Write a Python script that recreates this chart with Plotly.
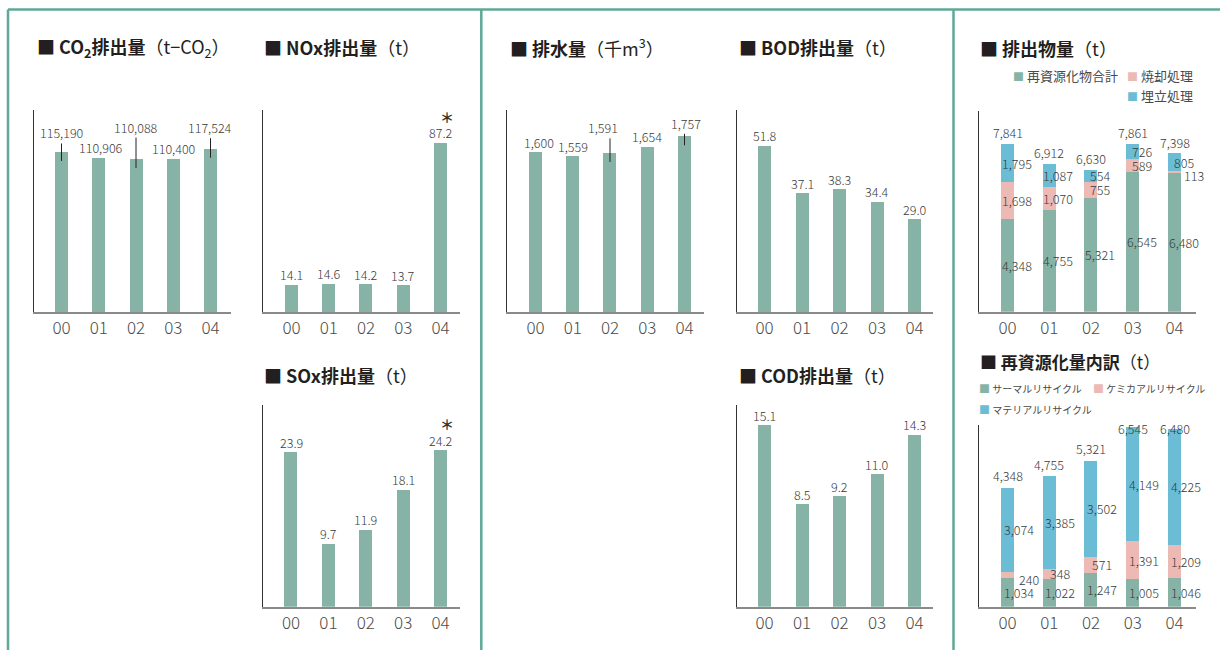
import plotly.graph_objects as go

W, H = 1220, 650

# ---------------- data ----------------
years = ["00", "01", "02", "03", "04"]
co2 = [115190, 110906, 110088, 110400, 117524]
nox = [14.1, 14.6, 14.2, 13.7, 87.2]
sox = [23.9, 9.7, 11.9, 18.1, 24.2]
water = [1600, 1559, 1591, 1654, 1757]
bod = [51.8, 37.1, 38.3, 34.4, 29.0]
cod = [15.1, 8.5, 9.2, 11.0, 14.3]

waste_recycled = [4348, 4755, 5321, 6545, 6480]
waste_incinerated = [1698, 1070, 755, 589, 113]
waste_landfill = [1795, 1087, 554, 726, 805]
waste_total = [7841, 6912, 6630, 7861, 7398]

recy_thermal = [1034, 1022, 1247, 1005, 1046]
recy_chemical = [240, 348, 571, 1391, 1209]
recy_material = [3074, 3385, 3502, 4149, 4225]
recy_total = [4348, 4755, 5321, 6545, 6480]

waste_names = ["再資源化物合計", "焼却処理", "埋立処理"]
recy_names = ["サーマルリサイクル", "ケミカアルリサイクル", "マテリアルリサイクル"]

# ---------------- style ----------------
GREEN = "#86b3a6"
PINK = "#ecb9b4"
BLUE = "#6bbdd6"
TEAL = "#5fa898"
FONT = "Noto Sans CJK JP"
NUMC = "#3a3a3a"
NUMSIZE = 12.5

# panel geometry (pixels): plot box, first bar centre, bar pitch, axis max
panels = {
    "co2":   dict(x0=34.0,  x1=231.0,  yt=110.0, yb=312.0, c0=61.5,   sp=37.25, ymax=145400),
    "nox":   dict(x0=263.3, x1=460.0,  yt=110.0, yb=312.0, c0=291.5,  sp=37.25, ymax=104.0),
    "sox":   dict(x0=263.3, x1=460.0,  yt=405.0, yb=606.7, c0=291.0,  sp=37.4,  ymax=31.2),
    "water": dict(x0=507.3, x1=704.0,  yt=110.0, yb=312.0, c0=535.5,  sp=37.25, ymax=2020),
    "bod":   dict(x0=736.7, x1=933.0,  yt=110.0, yb=312.0, c0=764.5,  sp=37.5,  ymax=63.0),
    "cod":   dict(x0=736.7, x1=933.0,  yt=405.0, yb=606.7, c0=764.5,  sp=37.5,  ymax=16.77),
    "waste": dict(x0=979.3, x1=1195.7, yt=111.0, yb=311.7, c0=1007.5, sp=41.75, ymax=9383),
    "recy":  dict(x0=979.3, x1=1195.7, yt=425.0, yb=606.7, c0=1007.5, sp=41.75, ymax=6629),
}

fig = go.Figure()
layout = dict(
    width=W, height=H, margin=dict(l=0, r=0, t=0, b=0),
    paper_bgcolor="white", plot_bgcolor="white",
    showlegend=False, barmode="stack",
    font=dict(family=FONT, color=NUMC),
)
ann = []
shapes = []

axref = {}
for n, (name, p) in enumerate(panels.items(), 1):
    xa = "xaxis" if n == 1 else f"xaxis{n}"
    ya = "yaxis" if n == 1 else f"yaxis{n}"
    xr = "x" if n == 1 else f"x{n}"
    yr = "y" if n == 1 else f"y{n}"
    axref[name] = (xr, yr)
    layout[xa] = dict(
        domain=[p["x0"] / W, p["x1"] / W],
        range=[(p["x0"] - p["c0"]) / p["sp"], (p["x1"] - p["c0"]) / p["sp"]],
        anchor=yr, showgrid=False, zeroline=False, showline=True,
        linecolor="#8a8a8a", linewidth=2, ticks="",
        tickvals=list(range(len(years))), ticktext=years,
        tickfont=dict(family=FONT, size=17, color="#4a4a4a", weight=300),
        ticklabelstandoff=0, fixedrange=True,
    )
    layout[ya] = dict(
        domain=[1 - p["yb"] / H, 1 - p["yt"] / H],
        range=[0, p["ymax"]], anchor=xr, showgrid=False, zeroline=False,
        showline=True, linecolor="#333333", linewidth=1, ticks="",
        showticklabels=False, fixedrange=True,
    )


def k(name):
    p = panels[name]
    return p["ymax"] / (p["yb"] - p["yt"])  # data units per pixel


def fmt(v):
    if isinstance(v, int):
        return f"{v:,}"
    return f"{v:.1f}"


def numfont(size=NUMSIZE):
    return dict(family=FONT, size=size, color=NUMC, weight=300)


def simple(name, vals, offsets=None, xsh=None, leaders=(), star=False):
    xr, yr = axref[name]
    p = panels[name]
    fig.add_trace(go.Bar(x=list(range(len(vals))), y=vals, width=13 / p["sp"],
                         marker=dict(color=GREEN, line=dict(width=0)),
                         xaxis=xr, yaxis=yr, hoverinfo="skip"))
    for i, v in enumerate(vals):
        off = offsets[i] if offsets else 10
        xs = xsh[i] if xsh else 0
        ann.append(dict(x=i, y=v, xref=xr, yref=yr, text=fmt(v), showarrow=False,
                        xanchor="center", yanchor="middle", yshift=off, xshift=xs,
                        font=numfont()))
        if i in leaders:
            ann.append(dict(x=i, y=v, xref=xr, yref=yr, text="", showarrow=True,
                            arrowhead=0, arrowwidth=1, arrowcolor="#222222",
                            ax=0, ay=-off, yshift=-9, standoff=0, startstandoff=0))
    if star:
        i = len(vals) - 1
        ann.append(dict(x=i, y=vals[i], xref=xr, yref=yr, text="<b>＊</b>",
                        showarrow=False, xanchor="center", yanchor="middle",
                        yshift=26, xshift=6, font=dict(family=FONT, size=14, color="#333333")))


simple("co2", co2, offsets=[19, 10, 32, 10, 21], xsh=[0, 2, 0, 1, -1], leaders=(0, 2, 4))
simple("nox", nox, star=True)
simple("sox", sox, star=True)
simple("water", water, offsets=[10, 10, 25, 10, 13], xsh=[3, 0, -7, 0, 1.5], leaders=(2, 4))
simple("bod", bod)
simple("cod", cod)


def stacked(name, series, colors, totals, seg_xshift, total_off):
    xr, yr = axref[name]
    p = panels[name]
    kk = k(name)
    base = [0] * len(years)
    for vals, col in zip(series, colors):
        fig.add_trace(go.Bar(x=list(range(len(vals))), y=vals, width=13 / p["sp"],
                             marker=dict(color=col, line=dict(width=0)),
                             xaxis=xr, yaxis=yr, hoverinfo="skip"))
        for i, v in enumerate(vals):
            mid = base[i] + v / 2
            xs, ys = seg_xshift, 0
            if v / kk < 8:  # too thin: label beside the bar
                xs, ys = seg_xshift + 10, -4
            ann.append(dict(x=i, y=mid, xref=xr, yref=yr, text=fmt(v), showarrow=False,
                            xanchor="center", yanchor="middle", xshift=xs, yshift=ys,
                            font=numfont()))
            base[i] += v
    for i, t in enumerate(totals):
        y = min(t + total_off * kk, p["ymax"] - 3 * kk)
        ann.append(dict(x=i, y=y, xref=xr, yref=yr, text=fmt(t), showarrow=False,
                        xanchor="center", yanchor="middle", font=numfont()))


stacked("waste", [waste_recycled, waste_incinerated, waste_landfill],
        [GREEN, PINK, BLUE], waste_total, 9, 11)
stacked("recy", [recy_thermal, recy_chemical, recy_material],
        [GREEN, PINK, BLUE], recy_total, 11, 12)

# ---------------- titles ----------------
titles = [
    (34.5, 47.5, "<b>■ CO<sub>2</sub>排出量</b>（t−CO<sub>2</sub>）", 18),
    (261.5, 47.5, "<b>■ NOx排出量</b>（t）", 18),
    (261.5, 375, "<b>■ SOx排出量</b>（t）", 18),
    (507.5, 47.5, "<b>■ 排水量</b>（千m<sup>3</sup>）", 18),
    (737, 47.5, "<b>■ BOD排出量</b>（t）", 18),
    (737, 375, "<b>■ COD排出量</b>（t）", 18),
    (978, 48, "<b>■ 排出物量</b>（t）", 18),
    (978, 361.5, "<b>■ 再資源化量内訳</b>（t）", 17),
]
for x, y, t, s in titles:
    ann.append(dict(x=x / W, y=1 - y / H, xref="paper", yref="paper", text=t,
                    showarrow=False, xanchor="left", yanchor="middle",
                    font=dict(family=FONT, size=s, color="#231f20")))

# ---------------- legends ----------------
def legend_item(x, y, color, label, size):
    ann.append(dict(x=x / W, y=1 - y / H, xref="paper", yref="paper",
                    text=f"<span style='color:{color};font-size:11px'>■</span> {label}",
                    showarrow=False, xanchor="left", yanchor="middle",
                    font=dict(family=FONT, size=size, color="#4a4a4a")))


legend_item(1011, 75.5, GREEN, waste_names[0], 13)
legend_item(1125, 75.5, PINK, waste_names[1], 13)
legend_item(1125, 95, BLUE, waste_names[2], 13)
legend_item(977, 387.5, GREEN, recy_names[0], 10)
legend_item(1091, 387.5, PINK, recy_names[1], 10)
legend_item(977, 408.5, BLUE, recy_names[2], 10)

# ---------------- frame lines ----------------
def pline(x0, y0, x1, y1):
    shapes.append(dict(type="line", xref="paper", yref="paper",
                       x0=x0 / W, y0=1 - y0 / H, x1=x1 / W, y1=1 - y1 / H,
                       line=dict(color=TEAL, width=2.5)))


pline(8, 9.5, W, 9.5)
pline(8, 9.5, 8, H)
pline(481.3, 9.5, 481.3, H)
pline(953.5, 9.5, 953.5, H)

layout["annotations"] = ann
layout["shapes"] = shapes
fig.update_layout(**layout)
fig.write_html("out.html")
